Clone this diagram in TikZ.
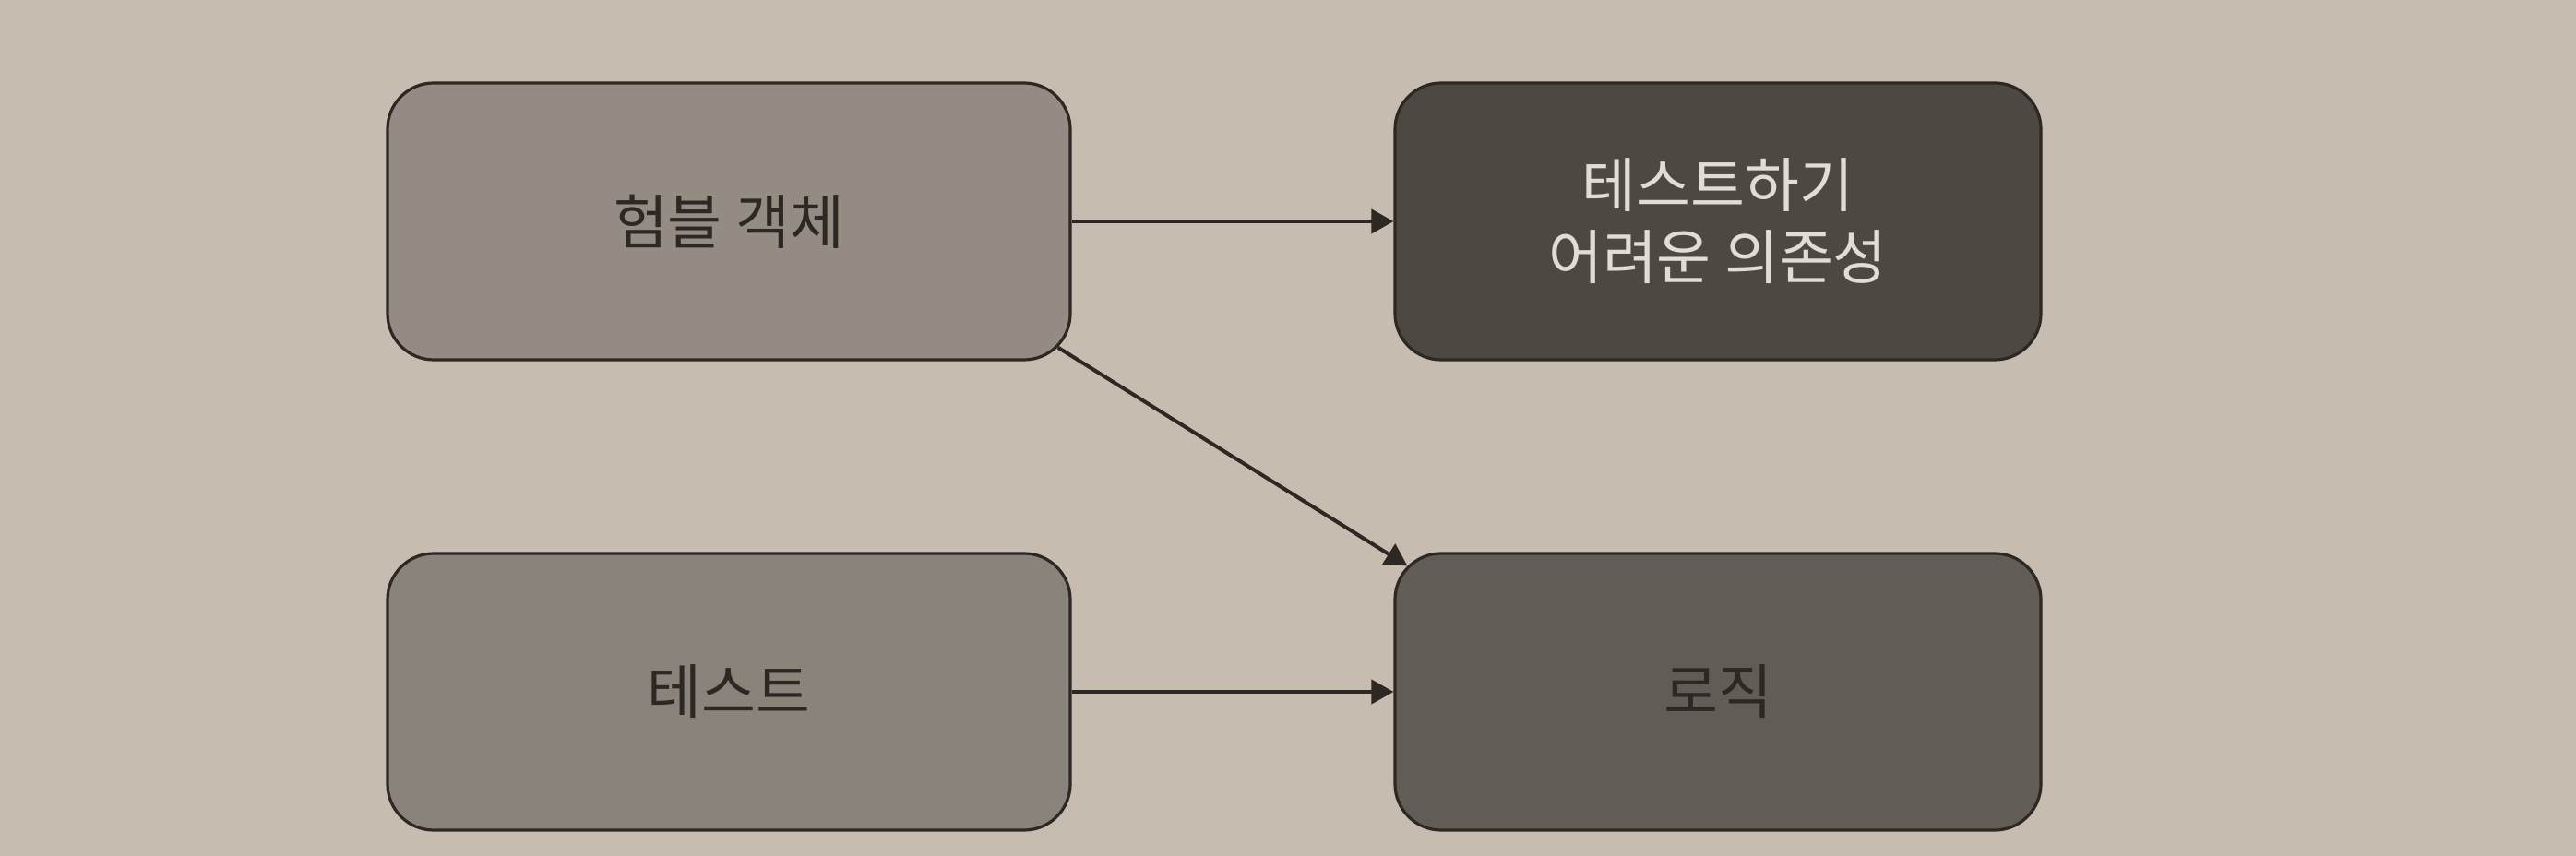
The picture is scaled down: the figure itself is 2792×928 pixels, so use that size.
\documentclass[tikz,border=0pt]{standalone}
\usepackage{fontspec}
\setmainfont{Noto Sans CJK KR}
\usetikzlibrary{arrows.meta,calc}
\definecolor{paper}{RGB}{198,188,176}
\definecolor{edge}{RGB}{45,40,36}
\definecolor{boxlight}{RGB}{148,140,130}
\definecolor{boxmid}{RGB}{138,131,122}
\definecolor{boxdark}{RGB}{78,72,67}
\definecolor{boxlogic}{RGB}{98,92,86}
\definecolor{textlight}{RGB}{225,220,212}
\begin{document}
\begin{tikzpicture}[x=0.25pt,y=0.25pt,yscale=-1,xscale=1,
	box/.style={draw=edge, line width=0.8pt, rounded corners=12.5pt, minimum height=75pt, align=center, text=edge, font=\fontsize{16}{19.5}\selectfont},
	leftbox/.style={box, minimum width=185pt},
	rightbox/.style={box, minimum width=175pt},
	arr/.style={draw=edge, line width=1pt, -{Triangle[length=6pt,width=6.5pt]}}]
	\fill[paper] (0,0) rectangle (2792,928);
	% boxes
	\node[leftbox, fill=boxlight] (humble) at (790,240) {험블 객체};
	\node[rightbox, fill=boxdark, text=textlight] (hard) at (1862,240) {테스트하기\\어려운 의존성};
	\node[leftbox, fill=boxmid] (test) at (790,750) {테스트};
	\node[rightbox, fill=boxlogic] (logic) at (1862,750) {로직};
	% arrows
	\draw[arr] (humble.east) -- (hard.west);
	\draw[arr] ($(humble.south east)+(-15,-15)$) -- ($(logic.north west)+(15,15)$);
	\draw[arr] (test.east) -- (logic.west);
\end{tikzpicture}
\end{document}
